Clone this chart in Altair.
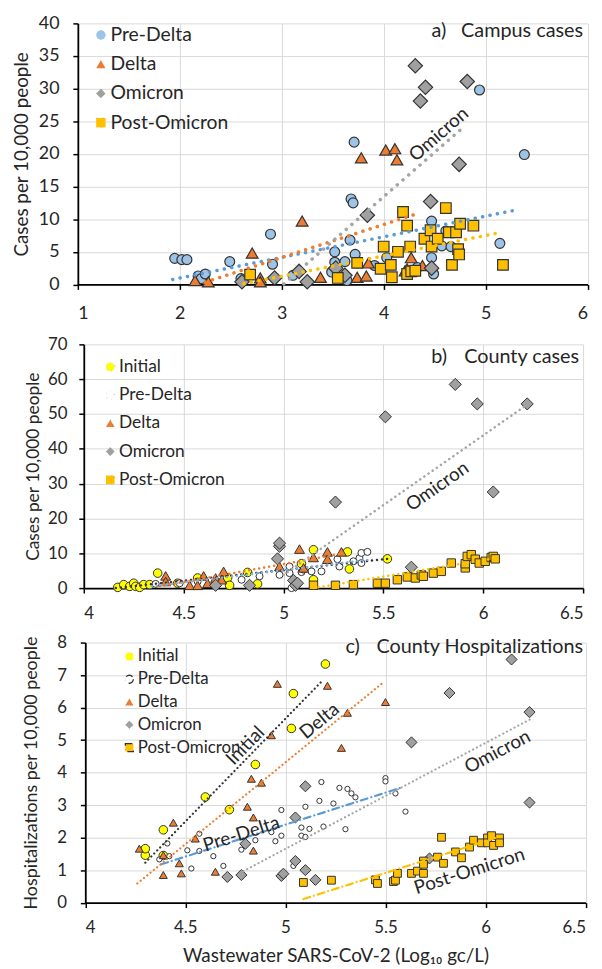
import math
import altair as alt
import pandas as pd

FONT = "Lato"
INK = "#262626"

# ---------------- a) Campus cases ----------------
a_series = ["Pre-Delta", "Delta", "Omicron", "Post-Omicron"]
a_pre_x = [1.95, 2.02, 2.07, 2.18, 2.21, 2.25, 2.49, 2.60, 2.89, 2.91, 3.11, 3.49, 3.52, 3.52, 3.62, 3.64, 3.67,
           3.68, 3.70, 3.71, 3.72, 3.91, 4.03, 4.19, 4.33, 4.47, 4.47, 4.49, 4.57, 4.61, 4.66, 4.94, 5.14, 5.38]
a_pre_y = [4.0, 3.8, 3.8, 1.3, 0.9, 1.6, 3.5, 0.9, 7.7, 3.1, 1.4, 1.9, 5.0, 3.4, 3.5, 0.6, 6.8,
           13.1, 12.5, 21.8, 4.6, 2.9, 4.1, 11.1, 2.6, 9.7, 4.1, 1.6, 5.9, 8.2, 5.8, 29.8, 6.3, 19.9]
a_delta_x = [2.15, 2.28, 2.71, 2.79, 2.79, 3.20, 3.38, 3.74, 3.78, 3.83, 3.85, 4.02, 4.11, 4.13, 4.21, 4.23, 4.27, 4.38]
a_delta_y = [0.6, 0.4, 4.8, 1.0, 0.4, 9.7, 1.1, 1.1, 19.4, 1.3, 3.3, 20.6, 20.8, 19.1, 2.1, 2.4, 4.1, 2.9]
a_omi_x = [2.61, 2.93, 3.17, 3.25, 3.53, 3.62, 3.84, 4.31, 4.36, 4.41, 4.46, 4.47, 4.74, 4.82]
a_omi_y = [0.4, 1.0, 2.0, 0.4, 2.5, 1.4, 10.6, 33.5, 28.1, 30.2, 12.7, 2.5, 18.4, 31.1]
a_post_x = [2.69, 3.55, 3.74, 3.97, 4.00, 4.07, 4.08, 4.14, 4.19, 4.23, 4.23, 4.26, 4.27, 4.31, 4.40, 4.46,
            4.47, 4.53, 4.61, 4.64, 4.67, 4.71, 4.73, 4.74, 4.75, 4.88, 5.17]
a_post_y = [1.5, 1.0, 3.3, 2.4, 5.8, 3.0, 1.1, 5.0, 11.1, 9.0, 1.6, 5.8, 2.0, 2.1, 7.0, 8.3,
            5.8, 7.0, 11.7, 8.0, 3.0, 8.0, 5.4, 4.6, 9.3, 9.0, 3.0]
a_trend_x0 = [1.93, 2.25, 3.02, 2.63]
a_trend_y0 = [0.76, 0.35, 0.1, 0.1]
a_trend_x1 = [5.33, 4.34, 4.79, 5.13]
a_trend_y1 = [11.5, 10.9, 24.2, 7.9]
a_labels = ["Omicron"]
a_label_x = [4.54]
a_label_y = [23.0]
a_label_line = ["Omicron"]
a_heading = ["a)", "Campus cases"]
a_heading_x = [4.47, 6.0]
a_heading_y = [38.85, 38.85]

# ---------------- b) County cases ----------------
bc_series = ["Initial", "Pre-Delta", "Delta", "Omicron", "Post-Omicron"]
b_init_x = [4.17, 4.20, 4.23, 4.25, 4.26, 4.28, 4.30, 4.33, 4.37, 4.47, 4.57, 4.72, 4.73, 4.82, 4.87, 5.09,
            5.15, 5.15, 5.32, 5.33, 5.52]
b_init_y = [0.2, 1.0, 0.5, 1.4, 0.5, 0.2, 1.0, 1.0, 4.3, 1.4, 2.9, 2.9, 0.8, 4.5, 1.2, 7.0,
            11.0, 2.4, 10.4, 5.5, 8.4]
b_pre_x = [4.36, 4.48, 4.57, 4.66, 4.79, 4.88, 4.98, 5.03, 5.03, 5.04, 5.09, 5.10, 5.14, 5.19, 5.27, 5.28,
           5.35, 5.38, 5.39, 5.39, 5.42]
b_pre_y = [1.2, 1.4, 1.9, 1.4, 2.4, 3.4, 3.8, 4.3, 6.2, 0.0, 4.6, 5.3, 4.8, 4.8, 8.3, 6.2,
           7.7, 8.6, 7.2, 10.1, 10.4]
b_delta_x = [4.41, 4.41, 4.53, 4.57, 4.60, 4.62, 4.66, 4.69, 4.70, 4.98, 5.08, 5.10, 5.15, 5.22, 5.22, 5.29]
b_delta_y = [3.5, 1.9, 0.8, 0.8, 3.5, 1.4, 2.9, 2.4, 4.8, 6.2, 11.2, 5.8, 8.8, 10.4, 8.3, 10.4]
b_omi_x = [4.66, 4.83, 4.97, 4.98, 4.98, 5.05, 5.06, 5.07, 5.26, 5.51, 5.64, 5.86, 5.97, 6.05, 6.22]
b_omi_y = [0.8, 0.8, 8.4, 12.0, 12.9, 2.2, 0.8, 1.4, 24.7, 49.2, 6.0, 58.5, 52.9, 27.6, 52.9]
b_post_x = [5.15, 5.26, 5.35, 5.47, 5.51, 5.57, 5.62, 5.66, 5.69, 5.70, 5.75, 5.79, 5.84, 5.91, 5.91, 5.92,
            5.94, 5.96, 5.98, 6.01, 6.04, 6.05, 6.06]
b_post_y = [0.8, 0.8, 1.0, 1.4, 1.4, 2.4, 3.2, 2.9, 3.8, 3.4, 4.3, 4.8, 7.2, 5.8, 7.0, 9.1,
            9.6, 8.3, 7.2, 7.7, 8.8, 9.1, 8.4]
b_trend_x0 = [4.16, 4.34, 4.38, 5.00, 5.15]
b_trend_y0 = [0.0, 0.5, 0.5, 3.8, 0.0]
b_trend_x1 = [5.52, 5.42, 5.30, 6.22, 6.06]
b_trend_y1 = [8.4, 8.1, 10.0, 52.7, 8.6]
b_labels = ["Omicron"]
b_label_x = [5.77]
b_label_y = [29.2]
b_label_line = ["Omicron"]
b_heading = ["b)", "County cases"]
b_heading_x = [5.74, 6.5]
b_heading_y = [66.3, 66.3]

# ---------------- c) County hospitalizations ----------------
c_init_x = [4.30, 4.30, 4.39, 4.39, 4.60, 4.72, 4.85, 5.03, 5.04, 5.20]
c_init_y = [1.46, 1.66, 2.24, 1.45, 3.25, 2.86, 4.25, 5.36, 6.43, 7.34]
c_pre_x = [4.37, 4.41, 4.42, 4.51, 4.53, 4.57, 4.57, 4.64, 4.69, 4.78, 4.85, 4.93, 4.95, 4.98, 4.98, 5.04,
           5.08, 5.08, 5.10, 5.10, 5.12, 5.17, 5.18, 5.19, 5.24, 5.27, 5.30, 5.31, 5.33, 5.35, 5.50, 5.50,
           5.55, 5.60]
c_pre_y = [1.33, 1.82, 1.43, 1.61, 1.05, 1.59, 2.12, 1.43, 1.13, 1.63, 1.92, 2.17, 1.89, 2.06, 2.85, 1.13,
           2.31, 2.06, 2.02, 2.95, 2.27, 3.13, 3.71, 2.34, 3.05, 3.53, 2.26, 3.50, 3.36, 3.24, 3.83, 3.73,
           3.36, 2.80]
c_delta_x = [4.27, 4.39, 4.39, 4.44, 4.47, 4.48, 4.55, 4.65, 4.81, 4.83, 4.84, 4.84, 4.88, 4.93, 4.96, 5.21,
             5.28, 5.31, 5.50]
c_delta_y = [1.66, 1.46, 0.85, 2.46, 1.21, 0.90, 1.97, 0.95, 2.95, 3.81, 2.62, 1.60, 3.69, 5.15, 6.73, 6.67,
             4.76, 5.84, 6.17]
c_omi_x = [4.71, 4.78, 4.80, 4.98, 4.99, 5.05, 5.05, 5.10, 5.10, 5.15, 5.63, 5.72, 5.82, 6.13, 6.22, 6.22]
c_omi_y = [0.79, 0.85, 1.81, 0.82, 0.89, 2.62, 1.28, 1.00, 3.58, 0.70, 4.93, 1.36, 6.45, 7.48, 5.86, 3.08]
c_post_x = [5.09, 5.23, 5.45, 5.46, 5.54, 5.55, 5.56, 5.63, 5.66, 5.69, 5.69, 5.69, 5.76, 5.78, 5.79, 5.85,
            5.88, 5.92, 5.94, 5.98, 6.01, 6.01, 6.03, 6.04, 6.07, 6.07]
c_post_y = [0.62, 0.69, 0.70, 0.59, 0.65, 0.69, 0.90, 0.90, 0.97, 0.90, 1.28, 1.18, 1.40, 2.01, 1.21, 1.56,
            1.38, 1.71, 1.92, 1.84, 1.99, 1.84, 2.06, 1.76, 1.99, 1.84]
c_trend_x0 = [4.30, 4.38, 4.26, 4.79, 5.09]
c_trend_y0 = [1.23, 1.18, 0.59, 0.97, 0.11]
c_trend_x1 = [5.19, 5.59, 5.49, 6.22, 6.05]
c_trend_y1 = [6.86, 3.56, 6.78, 5.63, 1.99]
c_labels = ["Initial", "Pre-Delta", "Delta", "Omicron", "Post-Omicron"]
c_label_x = [4.80, 4.78, 5.17, 6.06, 5.92]
c_label_y = [4.83, 2.11, 5.59, 4.64, 0.97]
c_label_line = ["Initial", "Pre-Delta", "Delta", "Omicron", "Post-Omicron"]
c_heading = ["c)", "County Hospitalizations"]
c_heading_x = [5.30, 6.5]
c_heading_y = [7.86, 7.86]


def points_frame(series, xs_list, ys_list, sizes):
    rows = []
    for s, xs, ys, sz in zip(series, xs_list, ys_list, sizes):
        for xv, yv in zip(xs, ys):
            rows.append({"series": s, "x": xv, "y": yv, "sz": sz})
    return pd.DataFrame(rows)


def trend_frame(series, x0, y0, x1, y1):
    rows = []
    for s, a, b, c, d in zip(series, x0, y0, x1, y1):
        rows.append({"series": s, "x": a, "y": b})
        rows.append({"series": s, "x": c, "y": d})
    return pd.DataFrame(rows)


def panel(points, trends, series, labels, label_x, label_y, label_line, heading, heading_x, heading_y,
          fills, shapes, mark_sw, line_colors, line_dashes, line_w,
          xdom, xticks, ydom, yticks, width, height, xoff,
          ytitle, ytitle_x, ytitle_size, xtitle, tick_font, xlab_pad, ylab_pad,
          legend_x, legend_y, legend_font, legend_row_pad, legend_sym, heading_dx):
    xsc = alt.Scale(domain=xdom, range=[xoff, width], nice=False, zero=False)
    ysc = alt.Scale(domain=ydom, nice=False, zero=False)
    xkw = dict(values=xticks, format="~g", labelFontSize=tick_font, labelPadding=xlab_pad, grid=True)
    if xtitle:
        xkw.update(title=xtitle, titleFontSize=19, titleX=(xoff + width) / 2, titleY=53,
                   titleBaseline="middle")
    else:
        xkw["title"] = None
    xaxis = alt.Axis(**xkw)
    yaxis = alt.Axis(values=yticks, format="d", title=ytitle, titleFontSize=ytitle_size, titleX=ytitle_x,
                     titleBaseline="middle", labelFontSize=tick_font, labelPadding=ylab_pad,
                     offset=-xoff, grid=True)
    xe = alt.X("x:Q", scale=xsc, axis=xaxis)
    ye = alt.Y("y:Q", scale=ysc, axis=yaxis)

    leg = alt.Legend(orient="none", legendX=legend_x, legendY=legend_y, title=None, labelFont=FONT,
                     labelFontSize=legend_font, labelColor=INK, rowPadding=legend_row_pad,
                     symbolSize=legend_sym, symbolStrokeWidth=1.3, padding=0, labelOffset=0)

    pts = alt.Chart(points).mark_point(filled=True, opacity=1, strokeWidth=mark_sw).encode(
        x=xe, y=ye,
        fill=alt.Fill("series:N", scale=alt.Scale(domain=series, range=fills), legend=leg),
        shape=alt.Shape("series:N", scale=alt.Scale(domain=series, range=shapes), legend=leg),
        stroke=alt.Stroke("series:N", scale=alt.Scale(domain=series, range=["#333333"] * len(series)),
                          legend=leg),
        size=alt.Size("sz:Q", scale=None, legend=None),
    )
    lines = alt.Chart(trends).mark_line(strokeWidth=line_w, strokeCap="round").encode(
        x=xe, y=ye,
        color=alt.Color("series:N", scale=alt.Scale(domain=series, range=line_colors), legend=None),
        strokeDash=alt.StrokeDash("series:N", scale=alt.Scale(domain=series, range=line_dashes), legend=None),
    )
    # label angles follow the trend lines in screen space
    pxx = (width - xoff) / (xdom[1] - xdom[0])
    pxy = height / (ydom[1] - ydom[0])
    tdf = trends.groupby("series")
    angles = []
    for ln in label_line:
        g = tdf.get_group(ln)
        dx = (g["x"].iloc[1] - g["x"].iloc[0]) * pxx
        dy = (g["y"].iloc[1] - g["y"].iloc[0]) * pxy
        angles.append(360 - math.degrees(math.atan2(dy, dx)))
    lab_df = pd.DataFrame({"text": labels, "x": label_x, "y": label_y, "angle": angles})
    labs = alt.Chart(lab_df).mark_text(font=FONT, fontSize=19, color=INK, align="center",
                                       baseline="middle").encode(
        x=xe, y=ye, text="text:N", angle=alt.Angle("angle:Q", scale=None))
    h1 = alt.Chart(pd.DataFrame({"t": [heading[0]], "x": [heading_x[0]], "y": [heading_y[0]]})).mark_text(
        font=FONT, fontSize=20, color=INK, align="left", baseline="middle").encode(x=xe, y=ye, text="t:N")
    h2 = alt.Chart(pd.DataFrame({"t": [heading[1]], "x": [heading_x[1]], "y": [heading_y[1]]})).mark_text(
        font=FONT, fontSize=20, color=INK, align="right", baseline="middle", dx=heading_dx).encode(
        x=xe, y=ye, text="t:N")
    return alt.layer(pts, lines, labs, h1, h2).properties(width=width, height=height)


DOT_A = [0.1, 7.5]
DOT_B = [0.1, 5]
DOT_C = [0.1, 4.2]
DASHDOT = [7, 4, 0.1, 4]

pa = panel(
    points_frame(a_series, [a_pre_x, a_delta_x, a_omi_x, a_post_x], [a_pre_y, a_delta_y, a_omi_y, a_post_y],
                 [100, 140, 210, 115]),
    trend_frame(a_series, a_trend_x0, a_trend_y0, a_trend_x1, a_trend_y1),
    a_series, a_labels, a_label_x, a_label_y, a_label_line, a_heading, a_heading_x, a_heading_y,
    fills=["#9DC3E6", "#ED7D31", "#A0A0A0", "#FFC000"],
    shapes=["circle", "triangle-up", "diamond", "square"],
    mark_sw=1.2,
    line_colors=["#5B9BD5", "#ED7D31", "#A5A5A5", "#FFC000"],
    line_dashes=[DOT_A, DOT_A, DOT_A, DOT_A], line_w=3.5,
    xdom=[1, 6], xticks=[1, 2, 3, 4, 5, 6], ydom=[0, 40], yticks=list(range(0, 41, 5)),
    width=514.5, height=263.5, xoff=0,
    ytitle="Cases per 10,000 people", ytitle_x=-57, ytitle_size=19, xtitle=None,
    tick_font=18, xlab_pad=15, ylab_pad=14,
    legend_x=13.5, legend_y=2, legend_font=19.5, legend_row_pad=8.5, legend_sym=90, heading_dx=-4.5,
)

pb = panel(
    points_frame(bc_series, [b_init_x, b_pre_x, b_delta_x, b_omi_x, b_post_x],
                 [b_init_y, b_pre_y, b_delta_y, b_omi_y, b_post_y], [75, 50, 100, 150, 72]),
    trend_frame(bc_series, b_trend_x0, b_trend_y0, b_trend_x1, b_trend_y1),
    bc_series, b_labels, b_label_x, b_label_y, b_label_line, b_heading, b_heading_x, b_heading_y,
    fills=["#FFFF00", "#FFFFFF", "#ED7D31", "#A0A0A0", "#FFC000"],
    shapes=["circle", "circle", "triangle-up", "diamond", "square"],
    mark_sw=1.0,
    line_colors=["#333333", "#7FB2E0", "#ED7D31", "#A5A5A5", "#FFC000"],
    line_dashes=[DOT_B, DOT_B, DOT_B, DOT_B, DOT_B], line_w=2.5,
    xdom=[4, 6.5], xticks=[4, 4.5, 5, 5.5, 6, 6.5], ydom=[0, 70], yticks=list(range(0, 71, 10)),
    width=510, height=246, xoff=6,
    ytitle="Cases per 10,000 people", ytitle_x=-51, ytitle_size=17.5, xtitle=None,
    tick_font=17, xlab_pad=12.5, ylab_pad=12,
    legend_x=24, legend_y=14, legend_font=17.5, legend_row_pad=9.5, legend_sym=75, heading_dx=-4,
)

pc = panel(
    points_frame(bc_series, [c_init_x, c_pre_x, c_delta_x, c_omi_x, c_post_x],
                 [c_init_y, c_pre_y, c_delta_y, c_omi_y, c_post_y], [75, 28, 65, 125, 62]),
    trend_frame(bc_series, c_trend_x0, c_trend_y0, c_trend_x1, c_trend_y1),
    bc_series, c_labels, c_label_x, c_label_y, c_label_line, c_heading, c_heading_x, c_heading_y,
    fills=["#FFFF00", "#FFFFFF", "#ED7D31", "#A0A0A0", "#FFC000"],
    shapes=["circle", "circle", "triangle-up", "diamond", "square"],
    mark_sw=1.0,
    line_colors=["#333333", "#5B9BD5", "#ED7D31", "#A5A5A5", "#FFC000"],
    line_dashes=[DOT_C, DASHDOT, DOT_C, DOT_C, DASHDOT], line_w=2.2,
    xdom=[4, 6.5], xticks=[4, 4.5, 5, 5.5, 6, 6.5], ydom=[0, 8], yticks=list(range(0, 9)),
    width=512.5, height=262.5, xoff=7.5,
    ytitle="Hospitalizations per 10,000 people", ytitle_x=-54.5, ytitle_size=18,
    xtitle="Wastewater SARS-CoV-2 (Log₁₀ gc/L)",
    tick_font=17, xlab_pad=12, ylab_pad=14,
    legend_x=43.5, legend_y=5.5, legend_font=17, legend_row_pad=5, legend_sym=65, heading_dx=-2.5,
)

IND = dict(x="independent", y="independent", fill="independent", shape="independent",
           size="independent", stroke="independent", strokeDash="independent", color="independent")
LEG = dict(fill="independent", shape="independent", stroke="independent")

inner = alt.vconcat(pb, pc, spacing=55, bounds="flush").resolve_scale(**IND).resolve_legend(**LEG)
chart = (
    alt.vconcat(pa, inner, spacing=60, bounds="flush")
    .resolve_scale(**IND)
    .resolve_legend(**LEG)
    .properties(padding={"left": 3.5, "top": 2, "right": 5, "bottom": 5})
    .configure_axis(domainColor="#000000", domainWidth=1.8, tickColor="#000000", tickWidth=1.5, tickSize=5,
                    gridColor="#D9D9D9", gridWidth=1, labelColor=INK, titleColor=INK, labelFont=FONT,
                    titleFont=FONT, titleFontWeight="normal")
    .configure_view(stroke=None)
)

chart.save("out.html", embed_options={"renderer": "svg", "actions": False})
